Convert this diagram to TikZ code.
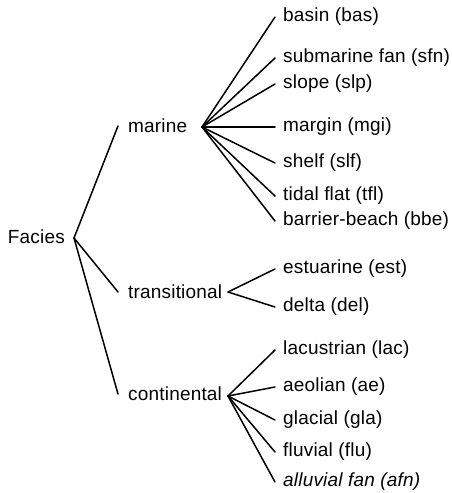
\documentclass[tikz,border=0pt]{standalone}
\usepackage{fontspec}
\setmainfont[LetterSpace=1]{Liberation Sans}
\begin{document}
\begin{tikzpicture}[x=1pt,y=-1pt,
  every node/.style={font=\fontsize{19}{22}\selectfont},
  leaf/.style={anchor=west,inner xsep=8pt,inner ysep=0pt},
  mid/.style={anchor=west,inner xsep=10pt,inner ysep=0pt},
  link/.style={line width=1.5pt,line cap=round}]
\useasboundingbox (0,0) rectangle (452,493);
% root
\node[anchor=east,inner xsep=9pt,inner ysep=0pt] (facies) at (74,237) {Facies};
\coordinate (root) at (74,238);
% middle level
\node[mid] (marine) at (118,126) {marine};
\node[mid] (trans) at (118,292) {transitional};
\node[mid] (cont) at (118,394) {continental};
\coordinate (m0) at (202,127);
\coordinate (t0) at (228,292);
\coordinate (c0) at (228,396);
% marine leaves
\node[leaf] (bas) at (275,17) {basin (bas)};
\node[leaf] (sfn) at (275,58) {submarine fan (sfn)};
\node[leaf] (slp) at (275,84) {slope (slp)};
\node[leaf] (mgi) at (275,127) {margin (mgi)};
\node[leaf] (slf) at (275,163) {shelf (slf)};
\node[leaf] (tfl) at (275,196) {tidal flat (tfl)};
\node[leaf] (bbe) at (275,221) {barrier-beach (bbe)};
% transitional leaves
\node[leaf] (est) at (275,269) {estuarine (est)};
\node[leaf] (del) at (275,307) {delta (del)};
% continental leaves
\node[leaf] (lac) at (275,350) {lacustrian (lac)};
\node[leaf] (ae) at (275,387) {aeolian (ae)};
\node[leaf] (gla) at (275,420) {glacial (gla)};
\node[leaf] (flu) at (275,452) {fluvial (flu)};
\node[leaf] (afn) at (275,482) {\itshape alluvial fan (afn)};
% connectors
\draw[link] (root) -- (marine.west);
\draw[link] (root) -- (trans.west);
\draw[link] (root) -- (cont.west);
\foreach \n in {bas,sfn,slp,mgi,slf,tfl,bbe} \draw[link] (m0) -- (\n.west);
\foreach \n in {est,del} \draw[link] (t0) -- (\n.west);
\foreach \n in {lac,ae,gla,flu,afn} \draw[link] (c0) -- (\n.west);
\end{tikzpicture}
\end{document}
